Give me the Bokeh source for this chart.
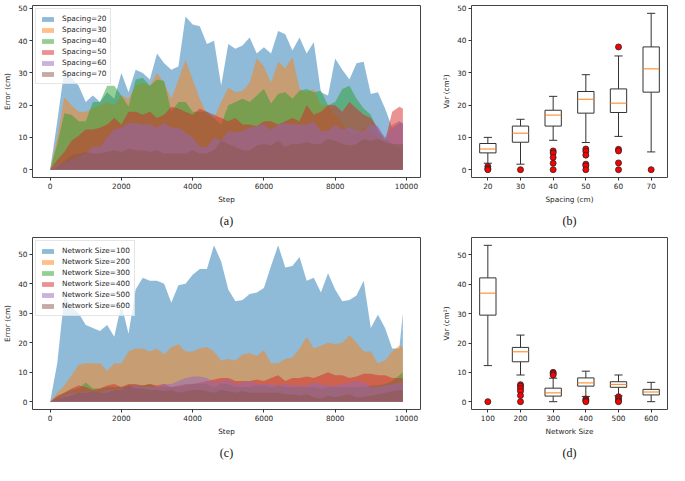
from bokeh.plotting import figure
from bokeh.layouts import column, row
from bokeh.models import Range1d, FixedTicker, Title
from bokeh.embed import file_html
from bokeh.resources import INLINE

# ---------------- data ----------------
steps = list(range(0, 9801, 200)) + [9900]

spacing_names = ["Spacing=20", "Spacing=30", "Spacing=40", "Spacing=50", "Spacing=60", "Spacing=70"]
sp20 = [0, 15, 31, 28.5, 26, 21, 23, 21, 24, 22,
        30, 24, 31, 30, 28, 36, 33, 31, 32, 47.5,
        45, 44.5, 39, 40, 26, 39, 37.5, 38.5, 41, 36,
        38, 36, 43, 42, 37, 41, 36, 39.5, 24, 23,
        34.5, 31, 28, 33, 33.5, 23.5, 24, 19, 13, 14.3,
        14.5]
sp30 = [0, 10, 22.5, 20, 18, 18, 19, 20, 21, 20,
        23, 22, 26, 27, 26, 30, 27, 22, 28, 34,
        28, 22, 17, 16, 21, 25.5, 24, 24.5, 27, 34.5,
        32, 27, 33.5, 31.5, 35, 25, 24, 25, 20, 20,
        17, 14, 12, 11, 13, 12, 10, 9, 14, 15,
        14]
sp40 = [0, 8, 17.5, 17, 15, 15, 21, 21, 26, 26,
        23, 19.5, 28, 28.5, 26, 28, 27.5, 18, 21, 21,
        18, 18, 18, 16, 14, 20, 21, 22, 21, 23,
        25, 20.5, 23.5, 24, 22, 24.5, 25, 24, 24.5, 20,
        21, 25, 26, 22, 19, 17, 12, 10, 8, 7,
        7]
sp50 = [0, 3, 5.5, 9, 10.5, 12.5, 12.5, 13, 14, 16,
        14, 18, 18, 17, 18, 16, 17, 19.5, 19, 18,
        17, 19, 18, 17, 16, 15, 16, 14, 14, 13.5,
        15, 15, 14, 15, 16, 15, 20, 17, 18, 20,
        20, 18, 21, 19, 17, 16, 13, 9, 18, 19.5,
        19]
sp60 = [0, 1.5, 2, 3, 4, 5, 7, 7, 10, 12.5,
        13, 14.5, 14.5, 14, 14, 13, 14.5, 13, 13, 11.5,
        10, 7, 7, 10, 9, 12, 11.5, 12, 13, 13.5,
        14, 12.5, 14, 14.5, 14, 14, 14, 15, 12, 12,
        14, 12.5, 13, 12, 12, 14, 13.5, 10, 13, 15,
        14.5]
sp70 = [0, 1, 2.5, 4.5, 5, 5.5, 5, 5, 5.5, 6,
        5.5, 6.5, 6, 6, 5.5, 6, 5, 5, 5, 5,
        6, 5, 5, 6, 9, 8, 7, 6, 6, 7.5,
        8, 7.5, 9, 7, 8, 8, 8.5, 8, 8, 9.5,
        9, 8, 7.5, 8, 9.5, 9, 9.5, 8.5, 8, 8,
        8]

net_names = ["Network Size=100", "Network Size=200", "Network Size=300",
             "Network Size=400", "Network Size=500", "Network Size=600"]
ns100 = [0, 13, 36, 32, 30, 26, 25, 24, 26, 22,
         33, 23, 38, 42, 41, 41, 40, 33.5, 39.5, 40,
         43, 45, 45, 53, 47.5, 38, 34, 34.5, 36.5, 37,
         38.5, 46, 53, 45.5, 46, 49, 41, 42, 37, 43.5,
         38, 34, 34.5, 36, 41, 25, 29.5, 25, 18, 18,
         30]
ns200 = [0, 3, 5.5, 9, 12.5, 13, 13, 13, 10.5, 13,
         13, 17, 18, 18, 17, 18, 16, 18.5, 19.5, 17,
         17, 18, 18.5, 17, 14, 14.5, 14, 16, 16.5, 15.5,
         17.5, 13, 13, 14.5, 15, 18, 22, 18, 19, 20,
         19.5, 20, 22.5, 20, 17, 17, 13, 14, 17, 19,
         18.5]
ns300 = [0, 1.5, 3, 4, 4.5, 6.5, 4.5, 4.5, 5, 5,
         5, 5.5, 5.5, 5.5, 6, 5, 5, 5, 5, 5.5,
         6, 6, 6, 5, 6, 6, 5, 5, 5, 5.5,
         5.5, 5, 5.5, 5, 5, 5, 5, 5, 4.5, 5,
         5, 5, 5, 5, 5, 5.5, 5.5, 6, 7, 9,
         10]
ns400 = [0, 2, 3, 4.5, 5.5, 5, 4, 4.5, 5.5, 6,
         5, 6, 6, 5.5, 6, 5.5, 6, 5, 5.5, 6,
         6, 6.5, 7, 7.5, 8, 8, 7, 7, 7, 7.5,
         7, 8, 9, 7, 8, 8, 8.5, 8, 9, 10,
         9, 9, 8, 8.5, 9.5, 9.5, 9, 9, 8, 8,
         8]
ns500 = [0, 1, 2, 3, 3, 3.5, 3.5, 3, 4, 4,
         4.5, 5, 5.5, 5, 5, 5, 6, 6, 7, 8,
         8.5, 8.5, 8, 6.5, 7, 7.5, 6, 6.5, 7, 6,
         6, 6, 5.5, 6, 5.5, 5.5, 5.5, 6.5, 6, 5.5,
         5.5, 6, 6.5, 7, 6.5, 5, 5, 5.5, 6, 6.5,
         6.5]
ns600 = [0, 1, 1.5, 2, 3, 3, 3.5, 3, 3, 4,
         4, 5.5, 4.5, 4.5, 4, 4, 3.5, 4, 3, 3.5,
         4, 4, 3.5, 3, 4, 3.5, 3, 3.5, 3, 3,
         3, 3, 3, 2.5, 2.5, 2, 2.5, 1.5, 1, 2,
         1.5, 2, 2.5, 1.5, 1.5, 2, 2.5, 3, 3.5, 4,
         4]

# box plot (b)
spacing_labels = ["20", "30", "40", "50", "60", "70"]
b_low = [2, 1.7, 9.1, 8.4, 10.3, 5.5]
b_q1 = [5.2, 8.5, 13.5, 17.5, 17.7, 24]
b_med = [6.4, 11.3, 16.9, 21.8, 20.6, 31.2]
b_q3 = [8.1, 13.5, 18.4, 24.2, 25, 38]
b_high = [10, 15.6, 22.7, 29.4, 35.2, 48.4]
b_outliers = [[1, 0.3, 0], [0], [5.8, 5.2, 3.8, 2, 0], [6.4, 5.7, 4.5, 1.7, 1.2, 0],
              [38, 6.3, 5.8, 2.1, 0], [0]]

# box plot (d)
size_labels = ["100", "200", "300", "400", "500", "600"]
d_low = [12.3, 9.1, 0, 1.8, 2, 0]
d_q1 = [29.5, 13.6, 1.9, 5.3, 4.9, 2.3]
d_med = [37, 17, 3, 6.4, 5.9, 3.3]
d_q3 = [42.2, 18.5, 4.6, 8.1, 6.8, 4.2]
d_high = [53.3, 22.7, 8, 10.4, 9.1, 6.6]
d_outliers = [[0], [5.8, 5.3, 4.5, 3.6, 2.1, 0], [10, 9.6, 9.1], [0.9, 0.4, 0],
              [1.7, 1, 0.3, 0], []]

colors = ["#1f77b4", "#ff7f0e", "#2ca02c", "#d62728", "#9467bd", "#8c564b"]

FONT = "DejaVu Sans"
TXT = "#262626"
FS = "7.3px"


def style(p, xticks, yticks, xlabel, ylabel, overrides=None):
    p.xaxis.ticker = FixedTicker(ticks=xticks)
    p.yaxis.ticker = FixedTicker(ticks=yticks)
    if overrides:
        p.xaxis.major_label_overrides = overrides
    for ax in (p.xaxis[0], p.yaxis[0]):
        ax.axis_line_color = None
        ax.major_tick_line_color = "#333333"
        ax.major_tick_out = 3
        ax.major_tick_in = 0
        ax.minor_tick_line_color = None
        ax.major_label_text_font = FONT
        ax.major_label_text_font_size = FS
        ax.major_label_text_color = TXT
        ax.axis_label_text_font = FONT
        ax.axis_label_text_font_size = FS
        ax.axis_label_text_font_style = "normal"
        ax.axis_label_text_color = TXT
        ax.major_label_standoff = 2
        ax.axis_label_standoff = 3
    p.xaxis.axis_label = xlabel
    p.yaxis.axis_label = ylabel
    p.grid.grid_line_color = None
    p.outline_line_color = "#444444"
    p.outline_line_width = 1
    p.background_fill_color = "white"
    p.border_fill_color = "white"


def caption(p, text):
    t = Title(text=text, align="center", text_font="Liberation Serif",
              text_font_size="12px", text_font_style="normal", text_color="#111111",
              standoff=10, offset=-8)
    p.add_layout(t, "below")


def make_area(names, series, ymax, cap):
    p = figure(width=430, height=232, min_border_left=28, min_border_right=10,
               min_border_top=5, min_border_bottom=52,
               x_range=Range1d(-495, 10395), y_range=Range1d(-0.05 * ymax, 1.05 * ymax),
               output_backend="svg", toolbar_location=None)
    for name, ys, c in zip(names, series, colors):
        p.varea(x=steps, y1=[0] * len(ys), y2=ys, fill_color=c, fill_alpha=0.5,
                legend_label=name)
    style(p, list(range(0, 10001, 2000)), [0, 10, 20, 30, 40, 50], "Step", "Error (cm)")
    lg = p.legend[0]
    lg.location = "top_left"
    lg.label_text_font = FONT
    lg.label_text_font_size = FS
    lg.label_text_color = TXT
    lg.glyph_width = 15
    lg.glyph_height = 6
    lg.label_height = 11
    lg.label_standoff = 7
    lg.spacing = 0
    lg.padding = 4
    lg.margin = 3
    lg.border_line_color = "#cccccc"
    lg.background_fill_alpha = 0.8
    caption(p, cap)
    return p


def make_box(labels, low, q1, med, q3, high, outl, ymax, xlabel, cap):
    p = figure(width=239, height=232, min_border_left=41, min_border_right=2,
               min_border_top=5, min_border_bottom=52,
               x_range=Range1d(0.5, 6.5), y_range=Range1d(-0.05 * ymax, 1.05 * ymax),
               output_backend="svg", toolbar_location=None)
    pos = list(range(1, len(labels) + 1))
    p.segment(x0=pos, y0=q3, x1=pos, y1=high, line_color="#333333", line_width=1)
    p.segment(x0=pos, y0=q1, x1=pos, y1=low, line_color="#333333", line_width=1)
    p.segment(x0=[x - 0.125 for x in pos], y0=high, x1=[x + 0.125 for x in pos], y1=high,
              line_color="#333333", line_width=1)
    p.segment(x0=[x - 0.125 for x in pos], y0=low, x1=[x + 0.125 for x in pos], y1=low,
              line_color="#333333", line_width=1)
    p.vbar(x=pos, top=q3, bottom=q1, width=0.5, fill_color="white", line_color="#333333",
           line_width=1)
    p.segment(x0=[x - 0.25 for x in pos], y0=med, x1=[x + 0.25 for x in pos], y1=med,
              line_color="#ff7f0e", line_width=1)
    ox, oy = [], []
    for x, vals in zip(pos, outl):
        for v in vals:
            ox.append(x)
            oy.append(v)
    p.scatter(x=ox, y=oy, size=6, fill_color="red", line_color="#222222", line_width=0.8)
    style(p, pos, [0, 10, 20, 30, 40, 50], xlabel, "Var (cm\u00b2)",
          overrides={x: l for x, l in zip(pos, labels)})
    caption(p, cap)
    return p


pa = make_area(spacing_names, [sp20, sp30, sp40, sp50, sp60, sp70], 48.5, "(a)")
pb = make_box(spacing_labels, b_low, b_q1, b_med, b_q3, b_high, b_outliers, 48.4,
              "Spacing (cm)", "(b)")
pc = make_area(net_names, [ns100, ns200, ns300, ns400, ns500, ns600], 53, "(c)")
pd = make_box(size_labels, d_low, d_q1, d_med, d_q3, d_high, d_outliers, 53.3,
              "Network Size", "(d)")

layout = column(row(pa, pb), row(pc, pd))
open("out.html", "w").write(file_html(layout, INLINE))
